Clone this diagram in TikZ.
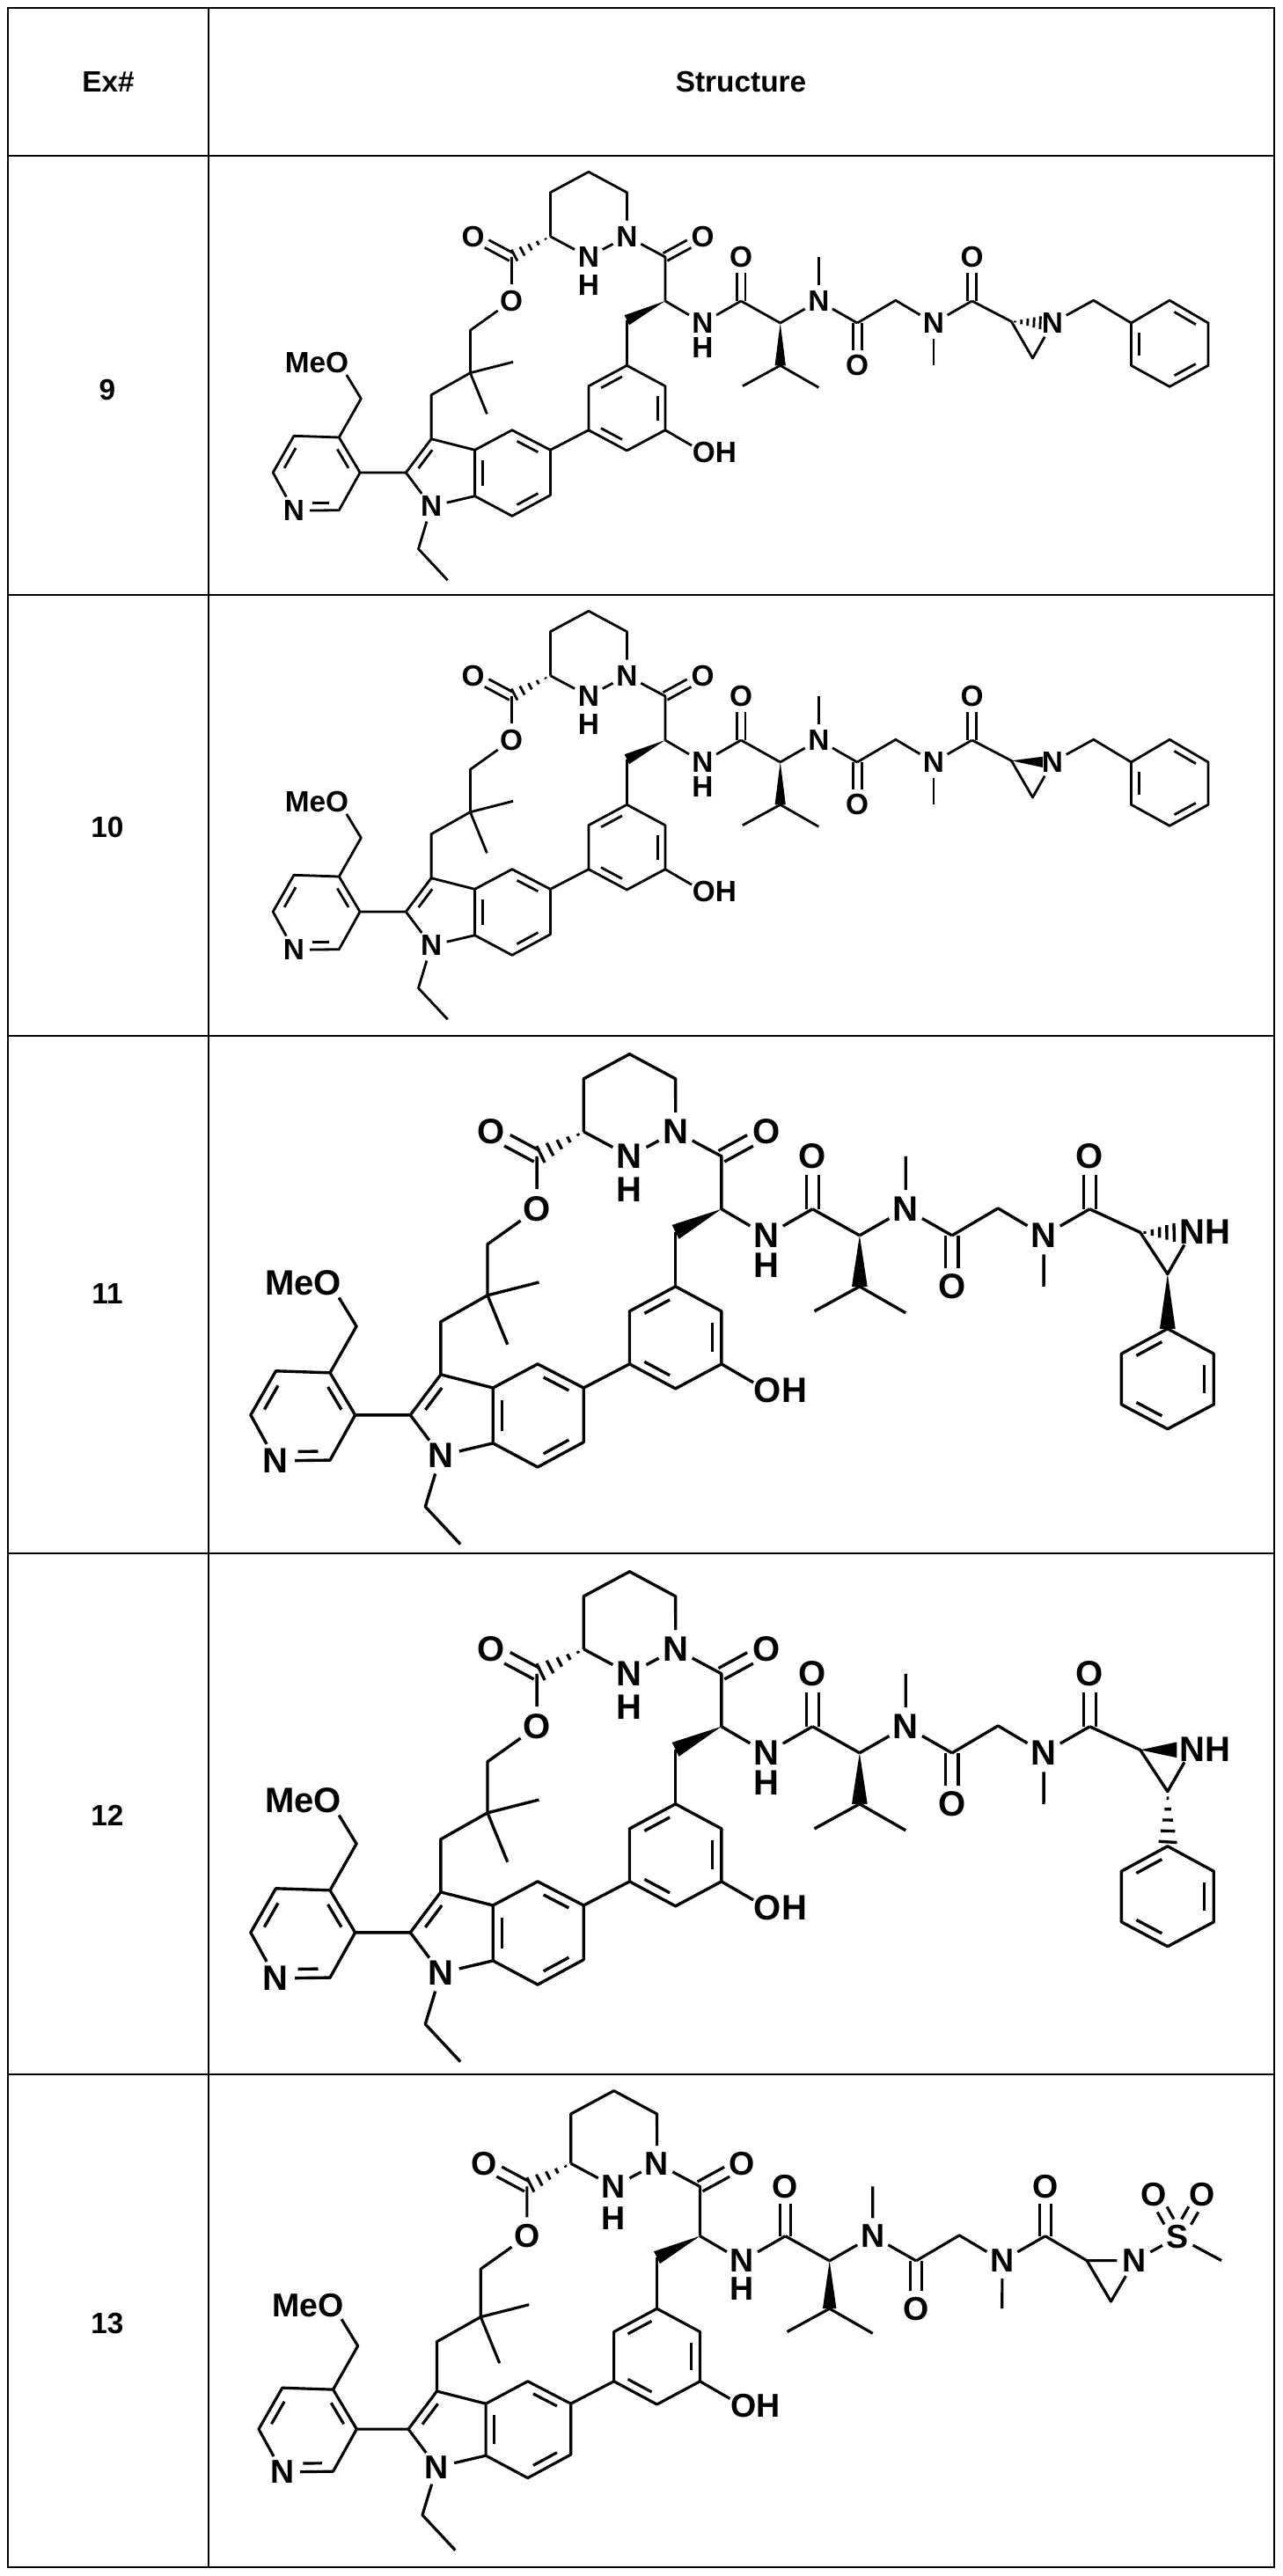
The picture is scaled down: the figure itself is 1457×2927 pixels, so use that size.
\documentclass[tikz,border=0pt]{standalone}
\usepackage{fontspec}
\setmainfont{Liberation Sans}
\usetikzlibrary{calc}
\newcommand\setrow[1]{\def\ms{#1}%
\pgfmathsetlengthmacro\fs{19pt*#1}\pgfmathsetlengthmacro\lw{1.6pt*#1}%
\pgfmathsetlengthmacro\sh{3.5pt*#1}\pgfmathsetlengthmacro\dd{2.8pt*#1}%
\pgfmathsetlengthmacro\so{10pt*#1}\pgfmathsetlengthmacro\hw{4.5pt*#1}%
\pgfmathsetlengthmacro\ww{3.5pt*#1}\pgfmathsetlengthmacro\shN{9pt*#1}}
\tikzset{
 lab/.style={circle,inner sep=0pt,font=\fontsize{\fs}{\fs}\selectfont\bfseries},
 labr/.style={rectangle,inner sep=0pt,font=\fontsize{\fs}{\fs}\selectfont\bfseries},
 hdr/.style={font=\fontsize{19pt}{19pt}\selectfont\bfseries},
 mol/.style={line width=\lw,line join=round},
 grid/.style={line width=1.6pt}}
\newcommand\dbi[3]{\draw[shorten <=\sh,shorten >=\sh] ($(#1.center)!0.2!(#3)$) -- ($(#2.center)!0.2!(#3)$);}
\newcommand\dbo[2]{\draw[shorten >=\so] ($(#1)!\dd!90:(#2.center)$) -- ($(#2.center)!\dd!-90:(#1)$);
 \draw[shorten >=\so] ($(#1)!\dd!-90:(#2.center)$) -- ($(#2.center)!\dd!90:(#1)$);}
\newcommand\dbs[2]{\draw[shorten <=\so,shorten >=\so] ($(#1.center)!\dd!90:(#2.center)$) -- ($(#2.center)!\dd!-90:(#1.center)$);
 \draw[shorten <=\so,shorten >=\so] ($(#1.center)!\dd!-90:(#2.center)$) -- ($(#2.center)!\dd!90:(#1.center)$);}
\newcommand\hashb[2]{\foreach \t in {0.12,0.32,0.52,0.72,0.92}{\path (#1) -- (#2) coordinate[pos=\t] (hh);
 \draw ($(hh)!{\t*\hw}!90:(#2)$) -- ($(hh)!{\t*\hw}!-90:(#2)$);}}
\newcommand\wdg[2]{\fill ($(#2)!\ww!90:(#1)$) -- (#1) -- ($(#2)!\ww!-90:(#1)$) -- cycle;}
\newcommand\Core{%
\coordinate (r1) at (668.9,195.3); \coordinate (r2) at (712.4,218.7);
\node[lab] (rN) at (712.4,268.7) {N}; \node[lab] (rNH) at (668.9,292) {N};
\node[lab] at (668.9,323.7) {H};
\coordinate (r5) at (625.4,268.7); \coordinate (r6) at (625.4,218.7);
\draw (r5)--(r6)--(r1)--(r2)--(rN); \draw (rN)--(rNH); \draw (rNH)--(r5);
\coordinate (eC) at (581.1,292);
\node[lab] (eO1) at (537.6,268.7) {O}; \node[lab] (eO2) at (581.1,342) {O};
\hashb{r5}{eC} \dbo{eC}{eO1}
\coordinate (a1) at (534.4,375.3); \coordinate (q) at (534.4,423.7);
\coordinate (m1) at (583.1,411.3); \coordinate (m2) at (553.4,470.3);
\coordinate (a2) at (490.1,448.7);
\coordinate (i3) at (490.1,498.7); \coordinate (i2) at (461.3,537);
\node[lab] (iN) at (490.1,575.3) {N};
\coordinate (i7a) at (539.6,563.7); \coordinate (i3a) at (539.6,511.3);
\coordinate (i4) at (581.9,488.7); \coordinate (i5) at (625.4,511.3);
\coordinate (i6) at (625.4,562.7); \coordinate (i7) at (581.9,586.3);
\coordinate (c5) at (514,537); \coordinate (bz) at (582.5,537.5);
\draw (eC)--(eO2); \draw (eO2)--(a1)--(q)--(a2)--(i3); \draw (q)--(m1); \draw (q)--(m2);
\draw (i3)--(i2)--(iN); \draw (iN)--(i7a)--(i3a)--(i3); \draw (i3a)--(i4)--(i5)--(i6)--(i7)--(i7a);
\dbi{i3}{i2}{c5} \dbi{i7a}{i3a}{bz} \dbi{i4}{i5}{bz} \dbi{i6}{i7}{bz}
\coordinate (e1) at (475.5,623.7); \coordinate (e2) at (508.7,659.3);
\draw (iN)--(e1)--(e2);
\coordinate (p3) at (409.1,537); \coordinate (p4) at (385.3,497);
\coordinate (p5) at (334,495.3); \coordinate (p6) at (310.2,537);
\node[lab] (pN) at (334,580.3) {N}; \coordinate (p2) at (385.3,579.7);
\coordinate (pc) at (359.6,537.7);
\draw (i2)--(p3)--(p4)--(p5)--(p6)--(pN); \draw (pN)--(p2)--(p3);
\dbi{p3}{p4}{pc} \dbi{p5}{p6}{pc}
\draw[shorten <=\shN,shorten >=\sh] ($(pN.center)!0.2!(pc)$) -- ($(p2.center)!0.2!(pc)$);
\coordinate (mc) at (410.3,453); \coordinate (mo) at (385.3,412);
\node[labr] at (360,412) {MeO};
\draw (p4)--(mc)--($(mc)!0.66!(mo)$);
\coordinate (f1) at (668.9,488.7); \coordinate (f2) at (668.9,438.7);
\coordinate (f3) at (712.4,415.3); \coordinate (f4) at (755.9,438.7);
\coordinate (f5) at (755.9,488.7); \coordinate (f6) at (712.4,512);
\coordinate (fc) at (712.4,463.7);
\draw (i5)--(f1)--(f2)--(f3)--(f4)--(f5)--(f6)--(f1);
\dbi{f2}{f3}{fc} \dbi{f4}{f5}{fc} \dbi{f6}{f1}{fc}
\coordinate (oo) at (799,513.7); \node[labr] at (812,513.7) {OH};
\draw (f5)--($(f5)!0.7!(oo)$);
\coordinate (cb) at (712.4,363.7); \coordinate (ca) at (755.9,342);
\draw (f3)--(cb); \wdg{ca}{cb}
\coordinate (c1) at (755.9,292); \node[lab] (o1) at (798.5,268.7) {O};
\draw (rN)--(c1)--(ca); \dbo{c1}{o1}
\node[lab] (n2) at (798.5,367) {N}; \node[lab] at (798.5,395.3) {H};
\coordinate (c2) at (842.1,342); \node[lab] (o2) at (842.1,292) {O};
\draw (ca)--(n2); \draw (n2)--(c2); \dbo{c2}{o2}
\coordinate (va) at (886.7,367); \coordinate (vb) at (886.7,415.3);
\coordinate (vm1) at (843.9,438.7); \coordinate (vm2) at (930.3,440.3);
\draw (c2)--(va); \wdg{va}{vb} \draw (vm1)--(vb)--(vm2);
\node[lab] (n3) at (930.3,342) {N}; \coordinate (n3m) at (930.3,292);
\draw (va)--(n3); \draw (n3)--(n3m);
\coordinate (c3) at (974.2,367); \node[lab] (o3) at (974.2,415.3) {O};
\draw (n3)--(c3); \dbo{c3}{o3}
\coordinate (g) at (1017.8,341.3); \node[lab] (n4) at (1061,367) {N};
\coordinate (n4m) at (1061,415.3);
\draw (c3)--(g)--(n4); \draw (n4)--(n4m);
\coordinate (c4) at (1104.6,342); \node[lab] (o4) at (1104.6,292) {O};
\draw (n4)--(c4); \dbo{c4}{o4}
}
\newcommand\TailA[1]{%
\coordinate (z1) at (1149.3,365.3); \node[lab] (zN) at (1196,367) {N};
\coordinate (z3) at (1173.5,407); \coordinate (zNe) at (1185,366.8);
\draw (c4)--(z1)--(z3)--(zN);
#1{z1}{zNe}
\coordinate (bn) at (1242.7,341.3);
\coordinate (b1) at (1285.5,367); \coordinate (b2) at (1329.1,341.3);
\coordinate (b3) at (1373,367); \coordinate (b4) at (1373,415.3);
\coordinate (b5) at (1329.1,439.3); \coordinate (b6) at (1285.5,415.3);
\coordinate (bc) at (1329.2,391.2);
\draw (zN)--(bn)--(b1)--(b2)--(b3)--(b4)--(b5)--(b6)--(b1);
\dbi{b2}{b3}{bc} \dbi{b4}{b5}{bc} \dbi{b6}{b1}{bc}
}
\newcommand\TailB[2]{%
\coordinate (z1) at (1152.4,364.1); \node[labr] at (1214,364) {NH};
\coordinate (nN) at (1201,364); \coordinate (z3) at (1178.3,403.5);
\coordinate (zNe) at (1187,364.1);
\draw (c4)--(z1)--(z3)--($(z3)!0.7!(nN)$);
#1{z1}{zNe}
\coordinate (q1) at (1178.3,455.3); \coordinate (q2) at (1222,479);
\coordinate (q3) at (1222,527); \coordinate (q4) at (1178.3,550.2);
\coordinate (q5) at (1134.6,527); \coordinate (q6) at (1134.6,479);
\coordinate (qc) at (1178.3,502.7);
#2{z3}{q1}
\draw (q1)--(q2)--(q3)--(q4)--(q5)--(q6)--cycle;
\dbi{q6}{q1}{qc} \dbi{q2}{q3}{qc} \dbi{q4}{q5}{qc}
}
\newcommand\TailC{%
\coordinate (z1) at (1146.6,366.8); \coordinate (z3) at (1170.9,408.1);
\node[lab] (zN) at (1195,366.8) {N}; \node[lab] (S) at (1238.2,342.9) {S};
\node[lab] (so1) at (1214.1,299.8) {O}; \node[lab] (so2) at (1263.1,299.8) {O};
\coordinate (sm) at (1282.6,366.8);
\draw (c4)--(z1)--(zN); \draw (z1)--(z3)--(zN); \draw (zN)--(S); \draw (S)--(sm);
\dbs{S}{so1} \dbs{S}{so2}
}
\begin{document}
\begin{tikzpicture}[x=0.02cm,y=-0.02cm]
\useasboundingbox (0,0) rectangle (1457,2927);
\fill[white] (0,0) rectangle (1457,2927);
\draw[grid] (9,9) rectangle (1448,2917);
\foreach \yy in {177,676,1177,1765,2357} \draw[grid] (9,\yy) -- (1448,\yy);
\draw[grid] (237,9) -- (237,2917);
\node[hdr] (h1) at (123,93) {Ex\#};
\node[hdr] (h2) at (842,93) {Structure};
\node[hdr] (e9) at (122,443) {9};
\node[hdr] (e10) at (122,940) {10};
\node[hdr] (e11) at (122,1470) {11};
\node[hdr] (e12) at (122,2063) {12};
\node[hdr] (e13) at (122,2640) {13};
\setrow{1}
\begin{scope}[mol] \Core \TailA{\hashb} \end{scope}
\begin{scope}[mol,shift={(0,499)}] \Core \TailA{\wdg} \end{scope}
\setrow{1.2}
\begin{scope}[mol,shift={(-87.4,963.3)},scale=1.2] \Core \TailB{\hashb}{\wdg} \end{scope}
\begin{scope}[mol,shift={(-87.4,1551.3)},scale=1.2] \Core \TailB{\wdg}{\hashb} \end{scope}
\setrow{1.125}
\begin{scope}[mol,shift={(-55,2155.9)},scale=1.125] \Core \TailC \end{scope}
\end{tikzpicture}
\end{document}
